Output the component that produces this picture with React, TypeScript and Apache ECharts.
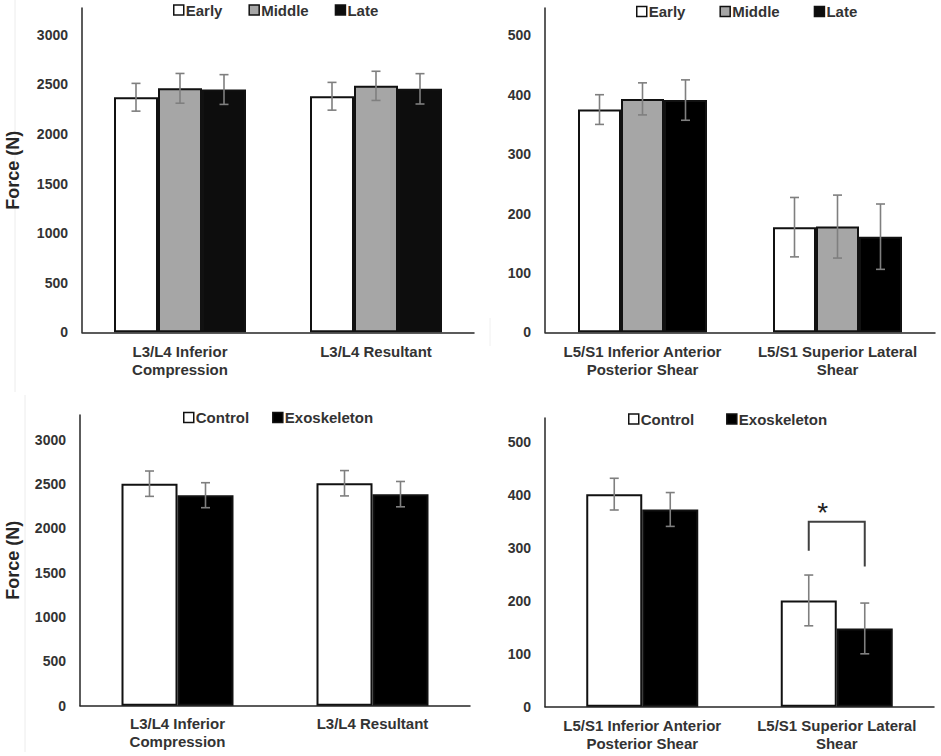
import React, { useEffect, useRef } from "react";
import * as echarts from "echarts";

// ---------- data ----------
const TOP_LEFT_CATS = ["L3/L4 Inferior\nCompression", "L3/L4 Resultant"];
const TOP_RIGHT_CATS = ["L5/S1 Inferior Anterior\nPosterior Shear", "L5/S1 Superior Lateral\nShear"];
const PHASES = ["Early", "Middle", "Late"];
const CONDITIONS = ["Control", "Exoskeleton"];

// Panel 1: L3/L4 forces by phase
const P1_EARLY = [2370, 2380];
const P1_EARLY_ERR = [140, 140];
const P1_MIDDLE = [2460, 2485];
const P1_MIDDLE_ERR = [150, 147];
const P1_LATE = [2448, 2455];
const P1_LATE_ERR = [150, 153];

// Panel 2: L5/S1 shear by phase
const P2_EARLY = [375, 177];
const P2_EARLY_ERR = [25, 50];
const P2_MIDDLE = [393, 178];
const P2_MIDDLE_ERR = [27, 53];
const P2_LATE = [391, 161];
const P2_LATE_ERR = [34, 55];

// Panel 3: L3/L4 forces by condition
const P3_CONTROL = [2505, 2510];
const P3_CONTROL_ERR = [143, 143];
const P3_EXO = [2375, 2387];
const P3_EXO_ERR = [141, 143];

// Panel 4: L5/S1 shear by condition
const P4_CONTROL = [402, 201];
const P4_CONTROL_ERR = [30, 48];
const P4_EXO = [373, 148];
const P4_EXO_ERR = [32, 48];

// significance bracket on panel 4: [category, top, left leg bottom, right leg bottom, star]
const P4_SIG = [[1, 350, 295, 265, 367]];

const Y_NAME = "Force (N)";

// ---------- styles ----------
const FONT = "'Liberation Sans', Arial, Helvetica, sans-serif";
const TXT = "#333333";
const AXIS = "#262626";
const ERR = "#7f7f7f";
const FILLS = ["#ffffff", "#a6a6a6", "#0d0d0d"];

function barSeries(name: string, idx: number, data: number[], w: number, color: string) {
  return {
    type: "bar",
    name,
    xAxisIndex: idx,
    yAxisIndex: idx,
    data,
    barWidth: w,
    barGap: "0%",
    itemStyle: { color, borderColor: "#111111", borderWidth: 2 },
    z: 2,
  };
}

function errSeries(idx: number, means: number[], errs: number[], offset: number) {
  return {
    type: "custom",
    name: "err",
    xAxisIndex: idx,
    yAxisIndex: idx,
    z: 5,
    silent: true,
    data: means.map((m, i) => [i, m, errs[i]]),
    renderItem: (_p: any, api: any) => {
      const i = api.value(0);
      const m = api.value(1);
      const e = api.value(2);
      const hi = api.coord([i, m + e]);
      const lo = api.coord([i, m - e]);
      const x = hi[0] + offset;
      const st = { stroke: ERR, lineWidth: 1.6 };
      return {
        type: "group",
        children: [
          { type: "line", shape: { x1: x, y1: hi[1], x2: x, y2: lo[1] }, style: st },
          { type: "line", shape: { x1: x - 4.5, y1: hi[1], x2: x + 4.5, y2: hi[1] }, style: st },
          { type: "line", shape: { x1: x - 4.5, y1: lo[1], x2: x + 4.5, y2: lo[1] }, style: st },
        ],
      };
    },
  };
}

function sigSeries(idx: number, half: number, starOffset: number) {
  return {
    type: "custom",
    name: "sig",
    xAxisIndex: idx,
    yAxisIndex: idx,
    z: 6,
    silent: true,
    data: P4_SIG,
    renderItem: (_p: any, api: any) => {
      const c = api.value(0);
      const top = api.coord([c, api.value(1)]);
      const lb = api.coord([c, api.value(2)]);
      const rb = api.coord([c, api.value(3)]);
      const star = api.coord([c, api.value(4)]);
      const xl = top[0] - half;
      const xr = top[0] + half;
      return {
        type: "group",
        children: [
          {
            type: "polyline",
            shape: { points: [[xl, lb[1]], [xl, top[1]], [xr, top[1]], [xr, rb[1]]] },
            style: { stroke: "#404040", lineWidth: 2, fill: "none" },
          },
          {
            type: "text",
            x: star[0] + starOffset,
            y: star[1],
            style: {
              text: "*",
              fontSize: 28,
              fontFamily: FONT,
              fill: "#222222",
              align: "center",
              verticalAlign: "middle",
            },
          },
        ],
      };
    },
  };
}

function catAxis(idx: number, cats: string[], margin: number) {
  return {
    type: "category",
    gridIndex: idx,
    data: cats,
    axisLine: { show: true, lineStyle: { color: AXIS, width: 1.5 } },
    axisTick: { show: false },
    axisLabel: {
      interval: 0,
      margin,
      fontSize: 15,
      fontWeight: "bold",
      color: TXT,
      fontFamily: FONT,
      lineHeight: 18,
    },
  };
}

function valAxis(idx: number, max: number, interval: number, name: string, nameGap: number) {
  return {
    type: "value",
    gridIndex: idx,
    min: 0,
    max,
    interval,
    axisLine: { show: true, lineStyle: { color: AXIS, width: 1.5 } },
    axisTick: { show: false },
    splitLine: { show: false },
    axisLabel: {
      margin: 14,
      fontSize: 14,
      fontWeight: "bold",
      color: TXT,
      fontFamily: FONT,
      formatter: (v: number) => (v % interval === 0 ? String(v) : ""),
    },
    name,
    nameLocation: "middle",
    nameGap,
    nameRotate: 90,
    nameTextStyle: { fontSize: 18, fontWeight: "bold", color: "#262626", fontFamily: FONT },
  };
}

function legend(names: string[], left: number, top: number, gap: number) {
  return {
    data: names,
    left,
    top,
    padding: 0,
    orient: "horizontal",
    icon: "rect",
    itemWidth: 10,
    itemHeight: 10,
    itemGap: gap,
    selectedMode: false,
    itemStyle: { borderWidth: 1.5, borderColor: "#111111" },
    textStyle: { fontSize: 15, fontWeight: "bold", color: TXT, fontFamily: FONT, padding: [0, 0, 0, -3] },
  };
}

export default function App() {
  const ref = useRef<HTMLDivElement>(null);
  useEffect(() => {
    document.body.style.margin = "0";
    if (!ref.current) return;
    const chart = echarts.init(ref.current, undefined, { renderer: "svg" });
    const option: any = {
      animation: false,
      backgroundColor: "#ffffff",
      textStyle: { fontFamily: FONT },
      grid: [
        { left: 82, top: 8, width: 392, height: 324.3 },
        { left: 545, top: 8, width: 390, height: 324.3 },
        { left: 80, top: 415, width: 390, height: 290.7 },
        { left: 545, top: 418, width: 389, height: 288.7 },
      ],
      legend: [
        legend(PHASES, 173, 2.5, 26),
        legend(PHASES, 636, 4, 34),
        legend(CONDITIONS, 183, 410, 23),
        legend(CONDITIONS, 628, 411.5, 32),
      ],
      xAxis: [
        catAxis(0, TOP_LEFT_CATS, 10),
        catAxis(1, TOP_RIGHT_CATS, 10),
        catAxis(2, TOP_LEFT_CATS, 9),
        catAxis(3, TOP_RIGHT_CATS, 10),
      ],
      yAxis: [
        valAxis(0, 3270, 500, Y_NAME, 60),
        valAxis(1, 546, 100, "", 40),
        valAxis(2, 3280, 500, Y_NAME, 58),
        valAxis(3, 546, 100, "", 40),
      ],
      graphic: [
        { type: "line", shape: { x1: 15, y1: 0, x2: 15, y2: 392 }, style: { stroke: "#ececec", lineWidth: 1 }, silent: true },
        { type: "line", shape: { x1: 25, y1: 395, x2: 25, y2: 752 }, style: { stroke: "#ececec", lineWidth: 1 }, silent: true },
        { type: "line", shape: { x1: 490, y1: 318, x2: 490, y2: 346 }, style: { stroke: "#f0f0f0", lineWidth: 1 }, silent: true },
      ],
      series: [
        barSeries(PHASES[0], 0, P1_EARLY, 44, FILLS[0]),
        barSeries(PHASES[1], 0, P1_MIDDLE, 44, FILLS[1]),
        barSeries(PHASES[2], 0, P1_LATE, 44, FILLS[2]),
        errSeries(0, P1_EARLY, P1_EARLY_ERR, -44),
        errSeries(0, P1_MIDDLE, P1_MIDDLE_ERR, 0),
        errSeries(0, P1_LATE, P1_LATE_ERR, 44),

        barSeries(PHASES[0], 1, P2_EARLY, 43, FILLS[0]),
        barSeries(PHASES[1], 1, P2_MIDDLE, 43, FILLS[1]),
        barSeries(PHASES[2], 1, P2_LATE, 43, "#000000"),
        errSeries(1, P2_EARLY, P2_EARLY_ERR, -43),
        errSeries(1, P2_MIDDLE, P2_MIDDLE_ERR, 0),
        errSeries(1, P2_LATE, P2_LATE_ERR, 43),

        barSeries(CONDITIONS[0], 2, P3_CONTROL, 56, FILLS[0]),
        barSeries(CONDITIONS[1], 2, P3_EXO, 56, "#000000"),
        errSeries(2, P3_CONTROL, P3_CONTROL_ERR, -28),
        errSeries(2, P3_EXO, P3_EXO_ERR, 28),

        barSeries(CONDITIONS[0], 3, P4_CONTROL, 56, FILLS[0]),
        barSeries(CONDITIONS[1], 3, P4_EXO, 56, "#000000"),
        errSeries(3, P4_CONTROL, P4_CONTROL_ERR, -28),
        errSeries(3, P4_EXO, P4_EXO_ERR, 28),
        sigSeries(3, 28, -14),
      ],
    };
    chart.setOption(option);
    return () => chart.dispose();
  }, []);
  return <div ref={ref} style={{ width: 941, height: 756 }} />;
}
